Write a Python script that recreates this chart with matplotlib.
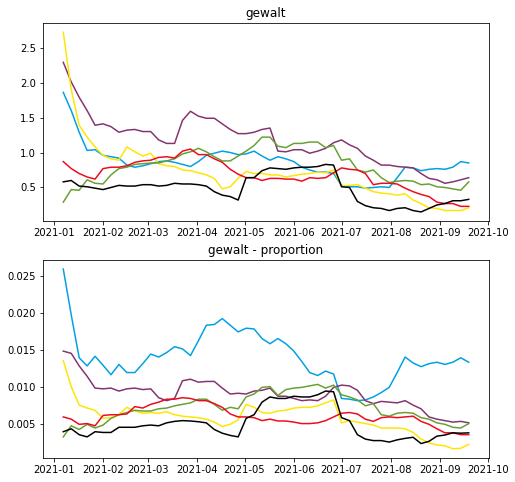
import numpy as np
import pandas as pd
import matplotlib
matplotlib.use("Agg")
from matplotlib import pyplot as plt
import matplotlib.dates as mdates

# one reading every 5 days, 2021-01-07 .. 2021-09-19
dates = pd.date_range("2021-01-07", periods=52, freq="5D")

# top panel: gewalt (absolute)
blue_abs = [1.86, 1.60, 1.29, 1.03, 1.04, 0.96, 0.94, 0.92, 0.82, 0.79, 0.81, 0.84, 0.87,
            0.88, 0.86, 0.83, 0.80, 0.87, 0.96, 0.99, 1.02, 1.00, 0.97, 0.98, 1.02, 0.95,
            0.89, 0.94, 0.91, 0.87, 0.79, 0.75, 0.72, 0.72, 0.70, 0.53, 0.51, 0.51, 0.49,
            0.50, 0.51, 0.50, 0.64, 0.79, 0.78, 0.74, 0.76, 0.77, 0.76, 0.79, 0.87, 0.85]
purple_abs = [2.29, 2.01, 1.79, 1.60, 1.39, 1.41, 1.37, 1.29, 1.32, 1.33, 1.30, 1.30, 1.18,
              1.13, 1.13, 1.46, 1.59, 1.52, 1.49, 1.49, 1.41, 1.33, 1.27, 1.27, 1.29, 1.33,
              1.35, 1.02, 1.01, 1.04, 1.04, 0.99, 1.02, 1.06, 1.14, 1.18, 1.11, 1.06, 0.95,
              0.89, 0.82, 0.82, 0.80, 0.79, 0.78, 0.70, 0.63, 0.61, 0.56, 0.58, 0.61, 0.64]
yellow_abs = [2.72, 1.90, 1.39, 1.22, 1.08, 0.96, 0.91, 0.89, 1.08, 1.01, 0.95, 0.99, 0.84,
              0.81, 0.80, 0.75, 0.74, 0.71, 0.68, 0.63, 0.48, 0.51, 0.63, 0.73, 0.70, 0.70,
              0.68, 0.68, 0.65, 0.67, 0.69, 0.70, 0.72, 0.71, 0.75, 0.52, 0.53, 0.54, 0.49,
              0.44, 0.42, 0.41, 0.39, 0.41, 0.32, 0.27, 0.21, 0.20, 0.17, 0.17, 0.17, 0.21]
green_abs = [0.29, 0.47, 0.46, 0.61, 0.56, 0.55, 0.68, 0.77, 0.79, 0.83, 0.84, 0.85, 0.85,
             0.88, 0.91, 0.98, 1.01, 1.06, 1.01, 0.94, 0.88, 0.88, 0.95, 1.02, 1.10, 1.22,
             1.22, 1.09, 1.07, 1.13, 1.13, 1.15, 1.15, 1.07, 1.10, 0.89, 0.91, 0.75, 0.72,
             0.75, 0.64, 0.57, 0.59, 0.60, 0.59, 0.54, 0.55, 0.51, 0.50, 0.48, 0.46, 0.58]
red_abs = [0.87, 0.77, 0.70, 0.65, 0.62, 0.77, 0.79, 0.79, 0.81, 0.86, 0.88, 0.89, 0.93,
           0.94, 0.92, 1.02, 1.05, 0.97, 0.97, 0.91, 0.86, 0.76, 0.69, 0.64, 0.64, 0.60,
           0.63, 0.63, 0.62, 0.62, 0.59, 0.64, 0.63, 0.64, 0.71, 0.78, 0.76, 0.75, 0.70,
           0.54, 0.56, 0.56, 0.55, 0.49, 0.44, 0.40, 0.37, 0.29, 0.27, 0.27, 0.23, 0.23]
black_abs = [0.58, 0.60, 0.52, 0.51, 0.49, 0.47, 0.50, 0.53, 0.52, 0.52, 0.54, 0.54, 0.52,
             0.53, 0.56, 0.55, 0.55, 0.54, 0.52, 0.44, 0.39, 0.37, 0.32, 0.64, 0.64, 0.74,
             0.78, 0.77, 0.76, 0.78, 0.79, 0.79, 0.80, 0.83, 0.82, 0.51, 0.50, 0.30, 0.24,
             0.21, 0.20, 0.17, 0.20, 0.21, 0.17, 0.15, 0.20, 0.25, 0.27, 0.31, 0.31, 0.33]

# bottom panel: gewalt - proportion (in 1/1000)
blue_prop = [26.0, 19.8, 14.0, 12.9, 14.2, 13.0, 11.7, 13.1, 12.0, 12.0, 13.2, 14.5, 14.1,
             14.7, 15.5, 15.2, 14.3, 16.3, 18.4, 18.5, 19.3, 18.4, 17.5, 18.0, 17.9, 16.6,
             15.9, 16.6, 15.9, 14.9, 13.5, 12.0, 11.6, 12.2, 11.8, 8.5, 8.4, 8.2, 8.3,
             8.7, 9.3, 10.0, 12.0, 14.1, 13.3, 12.8, 13.2, 13.4, 13.1, 13.4, 14.0, 13.4]
purple_prop = [14.9, 14.6, 12.9, 11.5, 9.9, 9.8, 9.9, 9.5, 9.8, 9.9, 9.7, 9.8, 8.6,
               8.2, 8.5, 10.9, 11.1, 10.7, 10.8, 10.8, 9.9, 9.1, 9.2, 9.1, 9.5, 9.6,
               9.9, 8.8, 8.8, 8.5, 8.2, 8.3, 8.2, 8.8, 10.0, 10.3, 10.2, 9.6, 8.2,
               7.8, 8.1, 8.0, 7.9, 8.2, 7.6, 7.1, 6.0, 5.7, 5.5, 5.3, 5.4, 5.2]
yellow_prop = [13.6, 10.1, 7.6, 7.2, 6.9, 5.8, 5.9, 6.3, 7.3, 6.8, 6.5, 6.6, 6.5,
               6.7, 6.3, 6.1, 6.0, 5.9, 5.7, 5.3, 4.7, 5.0, 5.6, 7.7, 7.3, 6.6,
               6.5, 6.8, 6.9, 7.2, 7.3, 7.3, 7.5, 7.9, 8.3, 5.2, 5.5, 5.3, 5.1,
               4.9, 4.5, 4.5, 4.5, 4.4, 3.9, 3.0, 2.5, 2.2, 2.1, 1.7, 1.75, 2.3]
green_prop = [3.3, 4.8, 4.3, 5.0, 4.5, 4.9, 5.8, 6.3, 6.6, 6.9, 6.8, 6.8, 7.1,
              7.2, 7.5, 7.7, 7.9, 8.4, 8.4, 7.7, 6.9, 7.3, 7.1, 8.7, 9.1, 10.0,
              10.1, 8.9, 9.7, 9.9, 10.0, 10.2, 10.4, 9.9, 10.3, 9.0, 8.7, 8.3, 7.5,
              7.8, 6.3, 6.1, 6.5, 6.6, 6.5, 5.9, 5.7, 5.2, 5.0, 4.6, 4.5, 5.1]
red_prop = [6.0, 5.7, 5.0, 5.1, 4.8, 6.2, 6.3, 6.3, 6.4, 7.4, 7.2, 7.7, 8.0,
            8.4, 8.4, 8.6, 8.5, 8.2, 8.2, 7.8, 7.3, 6.4, 6.0, 6.0, 5.9, 5.5,
            5.7, 5.45, 5.45, 5.3, 5.1, 5.1, 5.2, 5.5, 6.0, 6.5, 6.6, 6.4, 5.7,
            5.4, 5.9, 6.0, 5.9, 6.0, 6.1, 5.4, 5.0, 4.4, 3.85, 3.85, 3.6, 3.6]
black_prop = [4.0, 4.4, 3.6, 3.3, 4.0, 3.9, 3.9, 4.6, 4.6, 4.6, 4.8, 4.9, 4.8,
              5.2, 5.4, 5.5, 5.45, 5.35, 5.2, 4.3, 3.8, 3.5, 3.3, 5.8, 6.3, 8.0,
              8.7, 8.5, 8.5, 8.8, 8.7, 8.7, 9.0, 9.5, 9.4, 5.9, 5.5, 3.6, 3.0,
              2.8, 2.8, 2.6, 2.9, 3.1, 3.25, 2.4, 2.7, 3.4, 3.55, 3.85, 3.8, 3.85]

colors = ["#00A0E3", "#84336F", "#FFE500", "#67A032", "#EE0A1E", "#000000"]
top_series = [blue_abs, purple_abs, yellow_abs, green_abs, red_abs, black_abs]
bottom_series = [blue_prop, purple_prop, yellow_prop, green_prop, red_prop, black_prop]

fig, (ax1, ax2) = plt.subplots(2, 1, figsize=(515 / 72, 482 / 72), dpi=72)
fig.subplots_adjust(left=0.0835, right=0.9495, top=0.9517, bottom=0.0504, hspace=0.198)

for values, color in zip(top_series, colors):
    ax1.plot(dates, values, color=color)
ax1.set_title("gewalt")

for values, color in zip(bottom_series, colors):
    ax2.plot(dates, np.array(values) / 1000, color=color)
ax2.set_title("gewalt - proportion")

for ax in (ax1, ax2):
    ax.xaxis.set_major_locator(mdates.MonthLocator())
    ax.xaxis.set_major_formatter(mdates.DateFormatter("%Y-%m"))

plt.savefig("out.png", dpi=72)
plt.close()
